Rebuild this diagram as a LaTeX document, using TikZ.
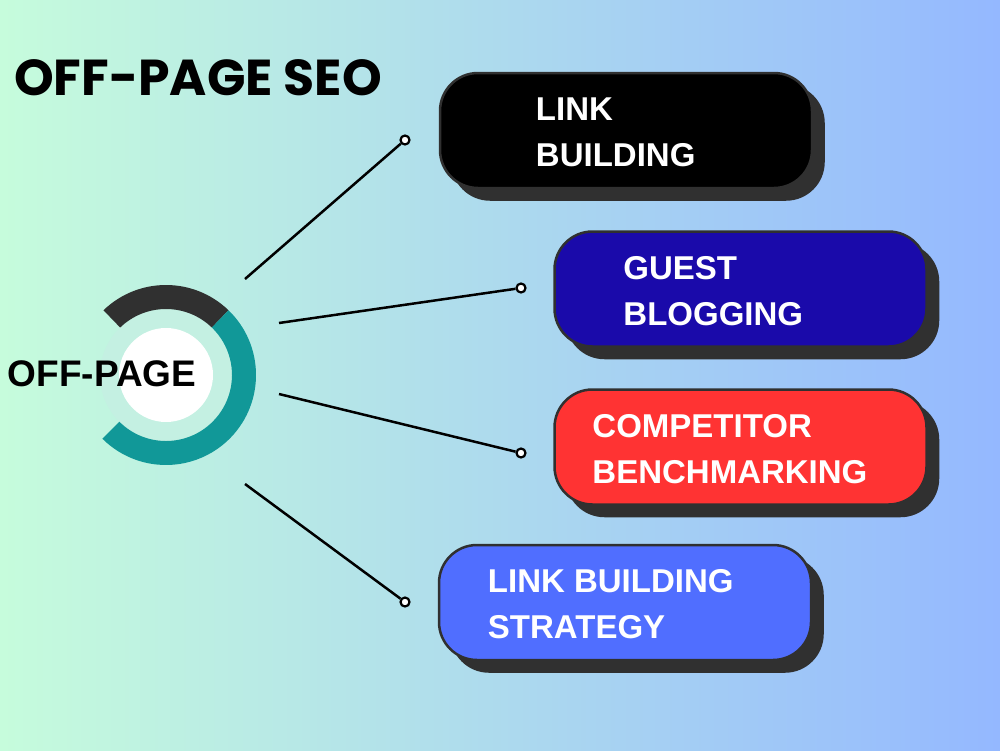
\documentclass[tikz,border=0pt]{standalone}
\usepackage{fontspec}
\setmainfont{Liberation Sans}
\newfontfamily\titlefont{Poppins}
\usetikzlibrary{shadows}

\definecolor{bgleft}{RGB}{198,252,220}
\definecolor{bgright}{RGB}{148,184,255}
\definecolor{edgegray}{RGB}{48,48,48}
\definecolor{ringteal}{RGB}{17,152,152}
\definecolor{ringpale}{RGB}{196,240,226}
\definecolor{guestblue}{RGB}{26,10,170}
\definecolor{benchred}{RGB}{255,51,51}
\definecolor{stratblue}{RGB}{80,110,255}

\tikzset{
  topicbox/.style={draw=edgegray, line width=2.5pt, rounded corners=38pt,
    minimum width=372pt, minimum height=115pt, inner sep=0pt,
    copy shadow={shadow xshift=12pt, shadow yshift=-12pt, fill=edgegray, draw=edgegray, line width=1.5pt}},
  topictext/.style={anchor=west, align=left, text=white, inner sep=0pt,
    font=\fontsize{33}{46}\selectfont\bfseries},
  dot/.style={circle, draw=black, fill=white, line width=2.2pt, minimum size=9pt, inner sep=0pt},
  spoke/.style={line width=2.5pt}
}

\begin{document}
\begin{tikzpicture}[x=1pt,y=-1pt]
  % background
  \shade[left color=bgleft, right color=bgright] (0,0) rectangle (1000,750);
  \useasboundingbox (0,0) rectangle (1000,750);

  \node[anchor=base west, inner sep=0pt, font=\titlefont\fontsize{50.5}{60}\selectfont\bfseries] (title) at (14,95) {OFF-PAGE SEO};

  % ring
  \coordinate (hub) at (166,375);
  \begin{scope}[shift={(hub)}, y=1pt]
    \fill[ringpale] (0,0) circle[radius=66];
    \fill[white] (0,0) circle[radius=47];
    \fill[edgegray] (134:90) arc[start angle=134, end angle=46, radius=90]
      -- (46:66) arc[start angle=46, end angle=134, radius=66] -- cycle;
    \fill[ringteal] (46:90) arc[start angle=46, end angle=-135, radius=90]
      -- (-135:66) arc[start angle=-135, end angle=46, radius=66] -- cycle;
  \end{scope}
  \node[inner sep=0pt, font=\fontsize{37}{40}\selectfont\bfseries] (offpage) at (102,374) {OFF-PAGE};

  % boxes
  \node[topicbox, fill=black] (b1) at (626,130.5) {};
  \node[topicbox, fill=guestblue] (b2) at (740.5,289) {};
  \node[topicbox, fill=benchred] (b3) at (740.5,447) {};
  \node[topicbox, fill=stratblue] (b4) at (625,602.5) {};

  \node[topictext] (t1) at ([xshift=97pt,yshift=-2pt]b1.west) {LINK\\BUILDING};
  \node[topictext] (t2) at ([xshift=70pt,yshift=-2pt]b2.west) {GUEST\\BLOGGING};
  \node[topictext] (t3) at ([xshift=39pt,yshift=-2pt]b3.west) {COMPETITOR\\BENCHMARKING};
  \node[topictext] (t4) at ([xshift=50pt,yshift=-2pt]b4.west) {LINK BUILDING\\STRATEGY};

  % spokes
  \coordinate (s1) at (245,279);
  \coordinate (s2) at (279,323);
  \coordinate (s3) at (279,394);
  \coordinate (s4) at (245,484);
  \node[dot] (d1) at (405,140) {};
  \node[dot] (d2) at (521,288) {};
  \node[dot] (d3) at (521,453) {};
  \node[dot] (d4) at (405,602) {};
  \draw[spoke] (s1) -- (d1);
  \draw[spoke] (s2) -- (d2);
  \draw[spoke] (s3) -- (d3);
  \draw[spoke] (s4) -- (d4);
\end{tikzpicture}
\end{document}
